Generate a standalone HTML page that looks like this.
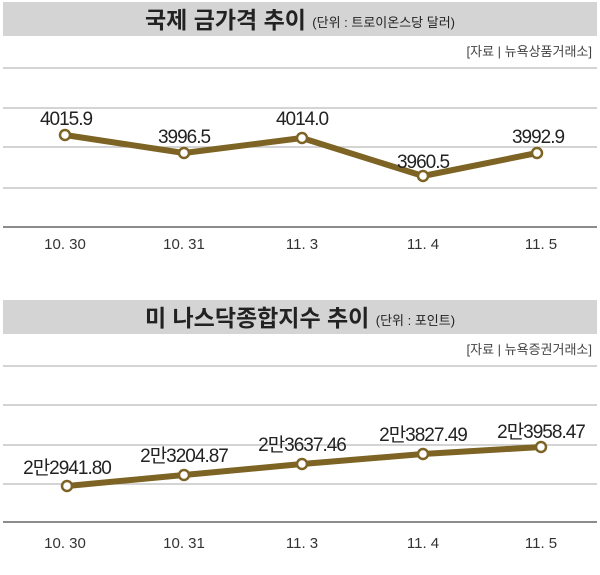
<!DOCTYPE html>
<html><head><meta charset="utf-8"><style>
body{margin:0;background:#fff;}
svg{display:block;font-family:"Liberation Sans","Noto Sans CJK KR",sans-serif;}
</style></head><body>
<svg width="600" height="575" viewBox="0 0 600 575">
<rect x="3" y="2" width="594" height="34" fill="#d4d4d4"/>
<text x="300" y="28" text-anchor="middle" font-size="23" font-weight="bold" fill="#222">국제 금가격 추이 <tspan font-size="13" font-weight="normal" dy="-1">(단위 : 트로이온스당 달러)</tspan></text>
<text x="592" y="56" text-anchor="end" font-size="13" fill="#444">[자료 | 뉴욕상품거래소]</text>
<g stroke="#bbb" stroke-width="1.2">
<line x1="3" y1="68" x2="597" y2="68"/><line x1="3" y1="108" x2="597" y2="108"/><line x1="3" y1="147" x2="597" y2="147"/><line x1="3" y1="188" x2="597" y2="188"/></g>
<line x1="3" y1="227" x2="597" y2="227" stroke="#666" stroke-width="1.5"/>
<polyline points="65,135 184,153 302,138 423,176 537,153" fill="none" stroke="#7d6424" stroke-width="6" stroke-linejoin="round"/>
<g fill="#fff" stroke="#7d6424" stroke-width="2.5">
<circle cx="65" cy="135" r="5"/><circle cx="184" cy="153" r="5"/><circle cx="302" cy="138" r="5"/><circle cx="423" cy="176" r="5"/><circle cx="537" cy="153" r="5"/></g>
<g font-size="19" fill="#222" text-anchor="middle" letter-spacing="-1">
<text x="66" y="125">4015.9</text><text x="184" y="143">3996.5</text><text x="302" y="125">4014.0</text><text x="423" y="168">3960.5</text><text x="538" y="143">3992.9</text></g>
<g font-size="15" fill="#333" text-anchor="middle">
<text x="65" y="249">10. 30</text><text x="184" y="249">10. 31</text><text x="302" y="249">11. 3</text><text x="423" y="249">11. 4</text><text x="541" y="249">11. 5</text></g>

<rect x="3" y="300" width="594" height="34" fill="#d4d4d4"/>
<text x="300" y="326" text-anchor="middle" font-size="23" font-weight="bold" fill="#222">미 나스닥종합지수 추이 <tspan font-size="13" font-weight="normal" dy="-1">(단위 : 포인트)</tspan></text>
<text x="592" y="354" text-anchor="end" font-size="13" fill="#444">[자료 | 뉴욕증권거래소]</text>
<g stroke="#bbb" stroke-width="1.2">
<line x1="3" y1="366" x2="597" y2="366"/><line x1="3" y1="405" x2="597" y2="405"/><line x1="3" y1="445" x2="597" y2="445"/><line x1="3" y1="484" x2="597" y2="484"/></g>
<line x1="3" y1="522" x2="597" y2="522" stroke="#666" stroke-width="1.5"/>
<polyline points="67,486 184,475 302,464 423,454 541,447" fill="none" stroke="#7d6424" stroke-width="6" stroke-linejoin="round"/>
<g fill="#fff" stroke="#7d6424" stroke-width="2.5">
<circle cx="67" cy="486" r="5"/><circle cx="184" cy="475" r="5"/><circle cx="302" cy="464" r="5"/><circle cx="423" cy="454" r="5"/><circle cx="541" cy="447" r="5"/></g>
<g font-size="19" fill="#222" text-anchor="middle" letter-spacing="-1">
<text x="67" y="474">2만2941.80</text><text x="184" y="462">2만3204.87</text><text x="302" y="451">2만3637.46</text><text x="423" y="441">2만3827.49</text><text x="541" y="438">2만3958.47</text></g>
<g font-size="15" fill="#333" text-anchor="middle">
<text x="65" y="548">10. 30</text><text x="184" y="548">10. 31</text><text x="302" y="548">11. 3</text><text x="423" y="548">11. 4</text><text x="541" y="548">11. 5</text></g>
</svg>
</body></html>
